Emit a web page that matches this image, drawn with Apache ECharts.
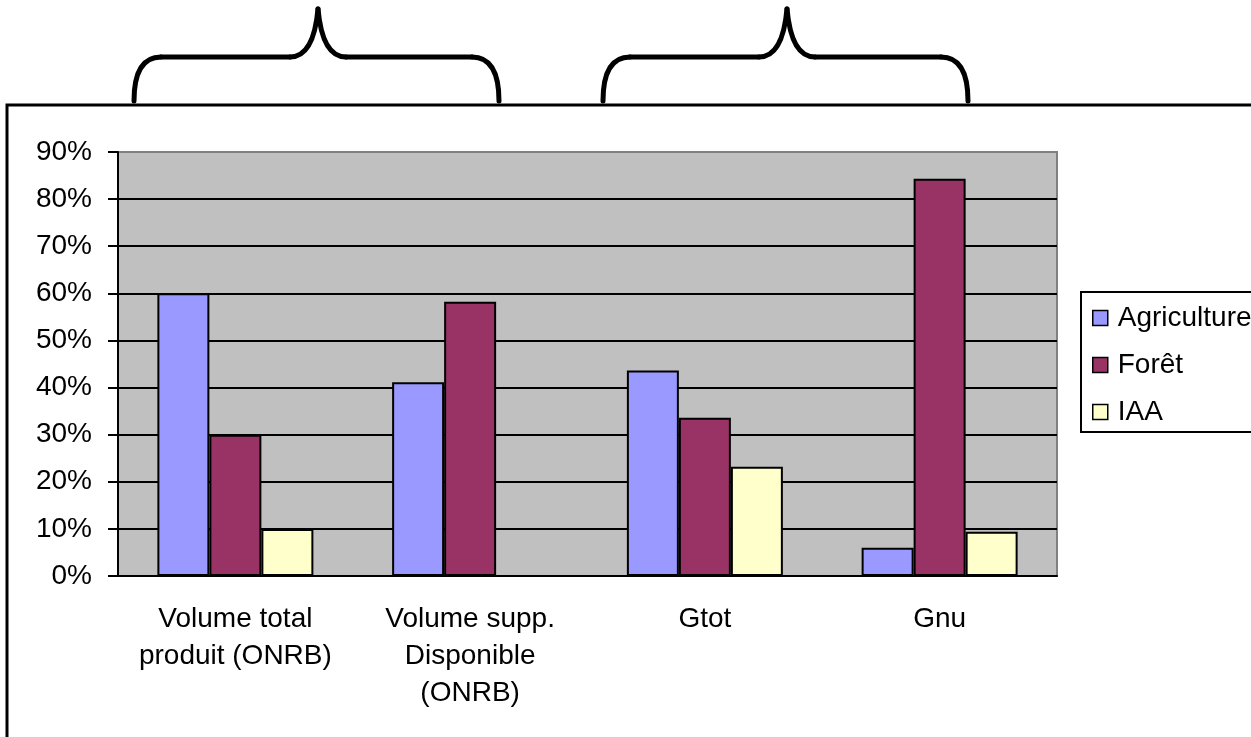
<!DOCTYPE html>
<html>
<head>
<meta charset="utf-8">
<script src="https://cdn.jsdelivr.net/npm/echarts@6/dist/echarts.min.js"></script>
<style>
  html, body { margin: 0; padding: 0; background: #fff; overflow: hidden; }
</style>
</head>
<body>
<div id="chart" style="width: 1251px; height: 737px;"></div>
<script>
// catégories et valeurs (en %)
const categories = ['Volume total\nproduit (ONRB)', 'Volume supp.\nDisponible\n(ONRB)', 'Gtot', 'Gnu']
const agriculture = [60, 41.1, 43.6, 6.0]
const foret = [30, 58.2, 33.6, 84.3]
const iaa = [10, 0, 23.2, 9.4]
const yTicks = [0, 10, 20, 30, 40, 50, 60, 70, 80, 90]

const font = '"Liberation Sans", Arial, sans-serif'

// accolades au-dessus du graphique (courbes + segments)
const braceStyle = { fill: 'none', stroke: '#000', lineWidth: 5, lineCap: 'round' }
const brace = (x0) => {
  const curve = (x1, y1, c1x, c1y, c2x, c2y, x2, y2) => ({
    type: 'bezierCurve',
    silent: true,
    shape: { x1: x0 + x1, y1: y1, cpx1: x0 + c1x, cpy1: c1y, cpx2: x0 + c2x, cpy2: c2y, x2: x0 + x2, y2: y2 },
    style: braceStyle
  })
  const seg = (x1, x2, y) => ({
    type: 'line',
    silent: true,
    shape: { x1: x0 + x1, y1: y, x2: x0 + x2, y2: y },
    style: braceStyle
  })
  return [
    curve(0, 101, 0, 74, 8, 57, 27, 57),
    seg(27, 156, 57),
    curve(156, 57, 172, 57, 181, 42, 184, 9),
    curve(184, 9, 187, 42, 196, 57, 212, 57),
    seg(212, 338, 57),
    curve(338, 57, 357, 57, 365, 74, 365, 101)
  ]
}

const chart = echarts.init(document.getElementById('chart'))

const barSeries = (name, data, color) => ({
  name: name,
  type: 'bar',
  data: data,
  barWidth: 52,
  barGap: '0%',
  itemStyle: { color: color, borderColor: '#000', borderWidth: 2 }
})

const option = {
  animation: false,
  backgroundColor: '#fff',
  textStyle: { fontFamily: font },
  graphic: [
    {
      // cadre extérieur (coupé à droite et en bas)
      type: 'polyline',
      silent: true,
      shape: { points: [[1300, 105], [7, 105], [7, 800]] },
      style: { fill: 'none', stroke: '#000', lineWidth: 3 }
    },
    {
      // cadre de la légende (coupé à droite)
      type: 'polyline',
      silent: true,
      shape: { points: [[1300, 292], [1081, 292], [1081, 432], [1300, 432]] },
      style: { fill: 'none', stroke: '#000', lineWidth: 2 }
    }
  ].concat(brace(134), brace(603)),
  grid: {
    left: 118,
    right: 194,
    top: 152,
    bottom: 161,
    show: true,
    backgroundColor: '#C0C0C0',
    borderColor: '#808080',
    borderWidth: 2
  },
  legend: {
    left: 1081,
    top: 292,
    orient: 'vertical',
    icon: 'rect',
    itemWidth: 15,
    itemHeight: 15,
    itemGap: 19,
    padding: [12, 0, 7, 11],
    itemStyle: { borderColor: '#000', borderWidth: 1.5 },
    textStyle: { fontSize: 28, lineHeight: 28, color: '#000', fontFamily: font, padding: [0, 0, 0, 5] },
    data: ['Agriculture', 'Forêt', 'IAA']
  },
  xAxis: {
    type: 'category',
    data: categories,
    axisLine: { lineStyle: { color: '#000', width: 2 } },
    axisTick: { length: 9, lineStyle: { color: '#000', width: 2 } },
    axisLabel: {
      interval: 0,
      margin: 25,
      fontSize: 28,
      lineHeight: 37,
      color: '#000',
      fontFamily: font
    }
  },
  yAxis: {
    type: 'value',
    min: yTicks[0],
    max: yTicks[yTicks.length - 1],
    interval: 10,
    axisLine: { show: true, lineStyle: { color: '#000', width: 2 } },
    axisTick: { show: true, length: 10, lineStyle: { color: '#000', width: 2 } },
    axisLabel: {
      margin: 26,
      fontSize: 28,
      color: '#000',
      fontFamily: font,
      formatter: '{value}%'
    },
    splitLine: {
      show: true,
      showMaxLine: false,
      lineStyle: { color: '#000', width: 2 }
    }
  },
  series: [
    barSeries('Agriculture', agriculture, '#9999FF'),
    barSeries('Forêt', foret, '#993366'),
    barSeries('IAA', iaa, '#FFFFCC')
  ]
}

chart.setOption(option)
</script>
</body>
</html>
